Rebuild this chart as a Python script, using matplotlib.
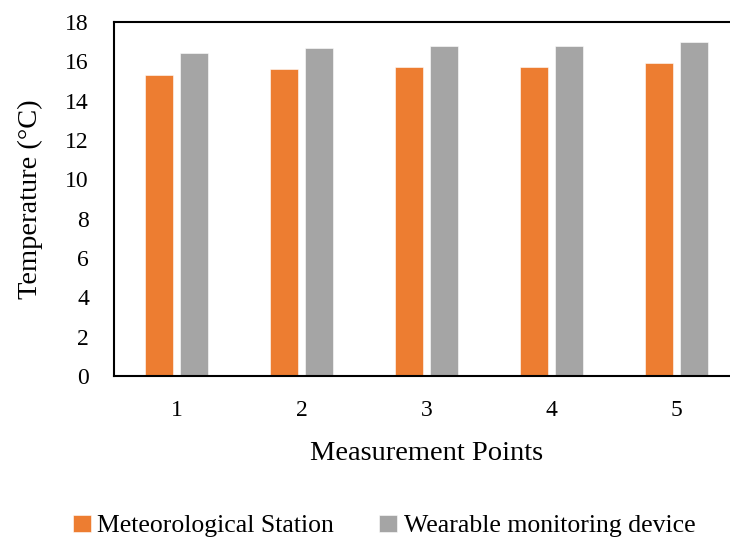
import matplotlib
matplotlib.use("Agg")
import matplotlib.pyplot as plt
import numpy as np

categories = ["1", "2", "3", "4", "5"]
station = [15.3, 15.6, 15.7, 15.7, 15.9]
wearable = [16.4, 16.7, 16.8, 16.8, 17.0]
yticks = [0, 2, 4, 6, 8, 10, 12, 14, 16, 18]

plt.rcParams['font.family'] = ['Liberation Serif', 'DejaVu Serif']

W, H = 730, 540
fig = plt.figure(figsize=(W / 100, H / 100), dpi=100)
ax = fig.add_axes([114 / W, (H - 376) / H, 625 / W, 354 / H])

x = np.arange(len(categories))
bw = 0.224
ax.bar(x - 0.14, station, width=bw, color="#ED7D31", edgecolor="white", linewidth=0.4,
       label="Meteorological Station")
ax.bar(x + 0.14, wearable, width=bw, color="#A5A5A5", edgecolor="white", linewidth=0.4,
       label="Wearable monitoring device")

ax.set_xlim(-0.5, len(categories) - 0.5)
ax.set_ylim(0, 18)
ax.set_yticks(yticks)
ax.set_xticks(x)
ax.set_xticklabels(categories)
ax.tick_params(axis="both", length=0, labelsize=17)
ax.tick_params(axis="y", pad=18)
ax.tick_params(axis="x", pad=17)
for s in ax.spines.values():
    s.set_color("black")
    s.set_linewidth(1.5)

ax.set_ylabel("Temperature (°C)", fontsize=20.5)
ax.yaxis.set_label_coords(-(114 - 30) / 625, 0.5)
ax.set_xlabel("Measurement Points", fontsize=20.5)
ax.xaxis.set_label_coords((426.5 - 114) / 625, -(454 - 376) / 354)
ax.xaxis.label.set_va("center")
ax.yaxis.label.set_va("center")

leg = fig.legend(loc="center", bbox_to_anchor=(384 / W, 1 - 526 / H), ncol=2, frameon=False,
                 fontsize=18.5, handlelength=0.7, handleheight=0.7, handletextpad=0.25,
                 columnspacing=1.75, borderpad=0)

fig.savefig("out.png", dpi=100)
